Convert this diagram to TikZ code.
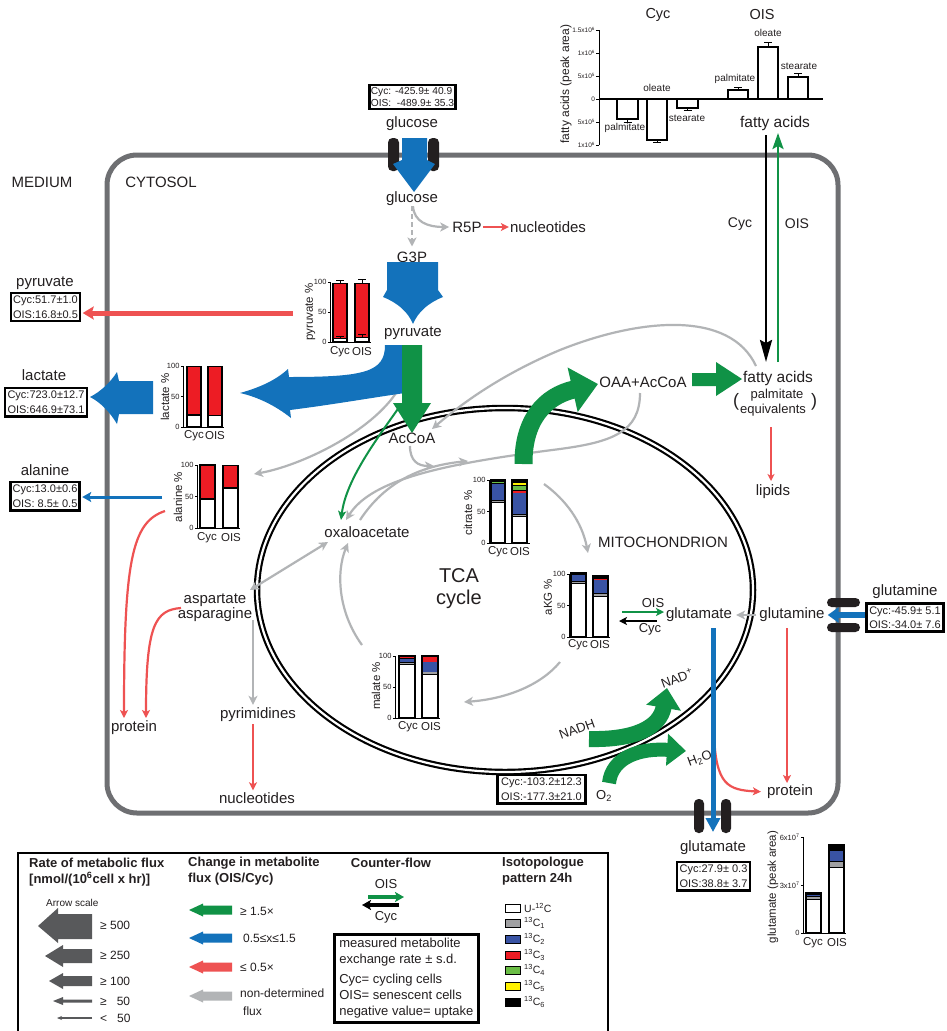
\documentclass[tikz,border=0pt]{standalone}
\usepackage{fontspec}
\setmainfont{Liberation Sans}
\usetikzlibrary{arrows.meta}
\definecolor{fblue}{RGB}{19,114,187}
\definecolor{fgreen}{RGB}{16,146,70}
\definecolor{fred}{RGB}{238,82,82}
\definecolor{fgray}{RGB}{178,180,182}
\definecolor{dgray}{RGB}{88,89,91}
\definecolor{wallc}{RGB}{110,111,114}
\definecolor{txt}{RGB}{35,31,32}
\definecolor{pillc}{RGB}{35,31,32}
\definecolor{barred}{RGB}{237,28,36}
\definecolor{isoA}{RGB}{160,160,162}
\definecolor{isoB}{RGB}{57,83,164}
\definecolor{isoC}{RGB}{237,28,36}
\definecolor{isoD}{RGB}{106,189,69}
\definecolor{isoE}{RGB}{255,242,0}
\definecolor{isoF}{RGB}{0,0,0}

\newcommand{\stk}[6]{%
  \foreach \sa/\sb/\segcol in {#5}{%
    \fill[fill=\segcol] (#1,{#2-#3*\sa/100}) rectangle ({#1+#4},{#2-#3*\sb/100});
    \draw[line width=0.6pt, black] (#1,{#2-#3*\sb/100}) -- ({#1+#4},{#2-#3*\sb/100});
  }%
  \draw[line width=1.2pt, black] (#1,#2) rectangle ({#1+#4},{#2-#3*#6/100});
}
\newcommand{\pctaxis}[5]{%
  \draw[line width=1pt, black] (#2,{#3-#4}) -- (#2,#3) -- (#5,#3);
  \foreach \tv in {0,50,100}{%
    \draw[line width=0.8pt, black] (#2,{#3-#4*\tv/100}) -- ++(-2.5,0) node[tklbl, anchor=east] (#1t\tv) {\tv};
  }%
}
\newcommand{\legarr}[2]{%
  \fill[#1] (232,{#2-4.5}) -- (203,{#2-4.5}) -- (203,{#2-6.5}) -- (189,#2) -- (203,{#2+6.5}) -- (203,{#2+4.5}) -- (232,{#2+4.5}) -- cycle;
}

\begin{document}
\begin{tikzpicture}[x=1pt,y=-1pt,
  every node/.style={inner sep=0pt, text=txt},
  lbl/.style={font=\fontsize{15}{17}\selectfont},
  chl/.style={font=\fontsize{11.5}{13}\selectfont},
  tklbl/.style={font=\fontsize{7.5}{8}\selectfont, xshift=-0.6pt},
  boxt/.style={draw=black, line width=2.7pt, font=\fontsize{11}{14.5}\selectfont, align=left, inner xsep=2.5pt, inner ysep=3pt},
  garr/.style={draw=fgray, line width=2.2pt, -{Stealth[length=9pt,width=9pt,inset=2.5pt]}},
  garrb/.style={draw=fgray, line width=2.2pt, {Stealth[length=9pt,width=9pt,inset=2.5pt]}-{Stealth[length=9pt,width=9pt,inset=2.5pt]}},
  rarr/.style={draw=fred, line width=2.2pt, -{Stealth[length=8pt,width=8pt,inset=2pt]}},
  hdr/.style={font=\bfseries\fontsize{13}{15}\selectfont},
  lgt/.style={font=\fontsize{12}{14}\selectfont},
  flab/.style={font=\fontsize{10}{12}\selectfont},
  mid/.style={font=\fontsize{13}{15}\selectfont},
  pill/.style={fill=pillc, rounded corners=4.5pt},
]
\useasboundingbox (0,0) rectangle (947,1031);
\fill[white] (0,0) rectangle (947,1031);

% ---------------- cell and mitochondrion
\draw[wallc, line width=5pt, rounded corners=30pt] (107,155) rectangle (838,813);
\draw[black, line width=6.5pt] (505,590) ellipse [x radius=248, y radius=182];
\draw[white, line width=2.2pt] (505,590) ellipse [x radius=248, y radius=182];

\node[lbl] (medium) at (42,182) {MEDIUM};
\node[lbl] (cytosol) at (161,182) {CYTOSOL};
\node[lbl] (mito) at (663,542) {MITOCHONDRION};
\node[font=\fontsize{20}{22}\selectfont] (tca1) at (459,576) {TCA};
\node[font=\fontsize{20}{22}\selectfont] (tca2) at (459,599) {cycle};

% ---------------- glucose
\node[boxt, font=\fontsize{10.2}{12.5}\selectfont, inner xsep=1.5pt, inner ysep=2pt] (glcbox) at (412.5,97) {Cyc: -425.9± 40.9\\OIS:\ \ -489.9± 35.3};
\node[lbl] (glcout) at (412,124) {glucose};
\fill[pill] (388,138) rectangle (399,171);
\fill[pill] (428,138) rectangle (439,171);
\fill[fblue] (402,138) -- (427,138) -- (427,160) -- (435,164) -- (414,192) -- (393,164) -- (402,160) -- cycle;
\node[lbl] (glcin) at (412,199) {glucose};
\node[lbl] (g3p) at (412,257) {G3P};
\node[lbl] (r5p) at (467,227) {R5P};
\node[lbl] (nuc1) at (548,227) {nucleotides};
\draw[garr, dash pattern=on 5pt off 3pt, shorten >=5pt] (glcin.south) -- (g3p.north);
\draw[garr, shorten >=3pt] ([xshift=1pt]glcin.south) .. controls (414,222) and (428,227) .. (r5p.west);
\draw[rarr, shorten <=1pt, shorten >=1pt] (r5p.east) -- (nuc1.west);

\fill[fblue] (387,262) -- (438,262) -- (438,290) -- (443,297) .. controls (428,303) and (418,312) .. (413,324) .. controls (408,312) and (398,303) .. (383,297) -- (387,290) -- cycle;
\node[lbl] (pyr) at (413,333) {pyruvate};

% ---------------- pyruvate chart
\pctaxis{pyr}{330}{342}{60}{371}
\stk{333}{342}{60}{14}{0/7/white,7/98/barred}{98}
\stk{355}{342}{60}{14}{0/8/white,8/98/barred}{98}
\draw[line width=1pt] (340,283) -- (340,280) (336,280) -- (344,280) (362,283) -- (362,279) (358,279) -- (366,279);
\draw[line width=1pt] (340,338) -- (340,336) (336,336) -- (344,336) (362,337) -- (362,334) (358,334) -- (366,334);
\node[chl, rotate=90] (pyrY) at (310,312) {pyruvate \%};
\node[chl] (pyrC) at (340,352) {Cyc};
\node[chl] (pyrO) at (362,352) {OIS};

% pyruvate export
\node[lbl] (pyrout) at (45,283) {pyruvate};
\node[boxt, inner xsep=2pt] (pyrbox) at (45.5,307) {Cyc:51.7±1.0\\OIS:16.8±0.5};
\coordinate (pyrsrc) at (293,313);
\draw[draw=fred, line width=5pt, -{Stealth[length=11pt,width=13pt,inset=2pt]}, shorten >=1.5pt] (pyrsrc) -- (pyrbox.east |- pyrsrc);

% pyruvate -> alanine (grey)
\draw[garr] (398,390) .. controls (372,432) and (300,466) .. (254,474);

% lactate flux
\fill[fblue] (385,345) -- (405,345) -- (405,393) .. controls (370,398) and (330,405) .. (290,410) -- (291,418) .. controls (276,406) and (258,397) .. (240,393) .. controls (258,388) and (275,381) .. (288,369) -- (289,377) .. controls (365,377) and (385,372) .. (385,345) -- cycle;
\fill[fblue] (153,381) -- (119,381) -- (117,372) .. controls (110,383) and (100,392) .. (90,397) .. controls (100,402) and (110,412) .. (117,424) -- (119,414) -- (153,414) -- cycle;
\node[lbl] (lacout) at (44,375) {lactate};
\node[boxt] (lacbox) at (46,402) {Cyc:723.0±12.7\\OIS:646.9±73.1};

% lactate chart
\pctaxis{lac}{183}{427}{61}{224}
\stk{187}{427}{61}{14}{0/20/white,20/21.5/black,21.5/99/barred}{99}
\stk{208}{427}{61}{14}{0/19/white,19/20.5/black,20.5/99/barred}{99}
\node[chl, rotate=90] (lacY) at (165,397) {lactate \%};
\node[chl] (lacC) at (194,436) {Cyc};
\node[chl] (lacO) at (215,436) {OIS};

% pyruvate -> AcCoA
\fill[fgreen] (402,345) -- (422,345) -- (422,403) -- (431,403) -- (412,433) -- (393,403) -- (402,403) -- cycle;
\node[lbl] (accoa) at (412,438) {AcCoA};

% alanine
\node[lbl] (alaout) at (45,470) {alanine};
\node[boxt, inner xsep=2pt] (alabox) at (45,496) {Cyc:13.0±0.6\\OIS: 8.5± 0.5};
\coordinate (alasrc) at (162,497);
\draw[draw=fblue, line width=3pt, -{Stealth[length=9pt,width=10pt,inset=2pt]}, shorten >=1.5pt] (alasrc) -- (alabox.east |- alasrc);
\pctaxis{ala}{197}{528}{63}{240}
\stk{200}{528}{63}{15}{0/45/white,45/47/black,47/100/barred}{100}
\stk{223}{528}{63}{15}{0/63/white,63/65/black,65/99/barred}{99}
\node[chl, rotate=90] (alaY) at (178,497) {alanine \%};
\node[chl] (alaC) at (207,538) {Cyc};
\node[chl] (alaO) at (231,538) {OIS};

% ---------------- TCA
\node[lbl] (oaa) at (367,532) {oxaloacetate};
\draw[draw=fgreen, line width=2pt, -{Stealth[length=9pt,width=8pt,inset=2pt]}] (400,406) .. controls (376,440) and (346,480) .. (341,520);
\draw[garr] (410,446) .. controls (410,461) and (418,466) .. (434,466);
\draw[garr] (360,520) .. controls (385,482) and (420,466) .. (468,461);
\node[lbl] (oaaac) at (643,382) {OAA+AcCoA};
\draw[garr] (640,393) .. controls (640,432) and (612,442) .. (560,449) .. controls (450,463) and (372,478) .. (346,520);
\draw[garr] (544,484) .. controls (566,500) and (582,522) .. (588,553);
\draw[garr] (560,662) .. controls (540,686) and (505,699) .. (464,702);
\draw[garr] (362,645) .. controls (338,612) and (336,572) .. (348,543);

% citrate chart
\pctaxis{cit}{489}{543}{63}{530}
\stk{491}{543}{63}{14}{0/65/white,65/68/isoA,68/95/isoB,95/98/isoD,98/100/isoF}{100}
\stk{512}{543}{63}{15}{0/43/white,43/46/isoA,46/80/isoB,80/84/isoC,84/92/isoD,92/96/isoE,96/100/isoF}{100}
\node[chl, rotate=90] (citY) at (468,513) {citrate \%};
\node[chl] (citC) at (498,552) {Cyc};
\node[chl] (citO) at (520,552) {OIS};

% aKG chart
\pctaxis{akg}{569}{637}{63}{610}
\stk{571}{637}{63}{15}{0/85/white,85/89/isoA,89/100/isoB,100/102/isoF}{102}
\stk{593}{637}{63}{15}{0/65/white,65/70/isoA,70/91/isoB,91/93/isoC,93/95/isoD,95/98/isoF}{98}
\node[chl, rotate=90] (akgY) at (548,597) {aKG \%};
\node[chl] (akgC) at (578,645) {Cyc};
\node[chl] (akgO) at (600,645) {OIS};

% malate chart
\pctaxis{mal}{395}{718}{62}{440}
\stk{399}{718}{62}{16}{0/87/white,87/90/isoA,90/97/isoB,97/100/isoC}{100}
\stk{422}{718}{62}{16}{0/71/white,71/75/isoA,75/91/isoB,91/100/isoC}{100}
\node[chl, rotate=90] (malY) at (376,686) {malate \%};
\node[chl] (malC) at (408,727) {Cyc};
\node[chl] (malO) at (431,727) {OIS};

% aspartate etc.
\node[lbl] (asp) at (215,600) {aspartate};
\node[lbl] (asn) at (215,615) {asparagine};
\draw[garrb] (250,590) -- (328,542);
\node[lbl] (pyrim) at (258,715) {pyrimidines};
\node[lbl] (nuc2) at (257,798) {nucleotides};
\draw[garr, shorten >=3pt] (253,620) -- (pyrim.north -| 253,0);
\draw[rarr, shorten <=2pt, shorten >=2pt] (pyrim.south -| 253,0) -- (nuc2.north -| 253,0);
\node[lbl] (prot1) at (134,728) {protein};
\draw[rarr] (165,511) .. controls (132,522) and (124,560) .. (124,718);
\draw[rarr] (181,608) .. controls (155,610) and (146,625) .. (146,718);

% ---------------- fatty acids
\node[font=\fontsize{15.5}{17}\selectfont] (fatop) at (775,123) {fatty acids};
\node[font=\fontsize{15.5}{17}\selectfont] (facyt) at (778,378) {fatty acids};
\node[font=\fontsize{13}{14}\selectfont] (palm) at (777,395) {palmitate};
\node[font=\fontsize{13}{14}\selectfont] (equiv) at (773,410) {equivalents};
\node[font=\fontsize{18}{20}\selectfont] (parl) at (736,402) {(};
\node[font=\fontsize{18}{20}\selectfont] (parr) at (814,402) {)};
\node[lbl] (lipids) at (773,492) {lipids};
\draw[draw=fred, line width=2pt, -{Stealth[length=7pt,width=7pt,inset=2pt]}] (771,427) -- (771,481);
\draw[draw=black, line width=2.5pt, -{Stealth[length=22pt,width=12pt,inset=3pt]}] (766,135) -- (766,362);
\draw[draw=fgreen, line width=2.5pt, -{Stealth[length=16pt,width=11pt,inset=3pt]}] (778,362) -- (778,133);
\node[font=\fontsize{14}{16}\selectfont] (facyc2) at (740,224) {Cyc};
\node[font=\fontsize{14}{16}\selectfont] (faois2) at (797,224) {OIS};

\draw[draw=fgreen, line width=18pt, -{Triangle[length=26pt,width=44pt]}] (523.5,464) .. controls (523,420) and (545,396) .. (598,384);
\fill[fgreen] (692,373) -- (716,373) -- (716,362) -- (742,379) -- (716,396) -- (716,386) -- (692,386) -- cycle;
\draw[garr] (756,366) .. controls (730,310) and (640,318) .. (560,350) .. controls (500,375) and (460,405) .. (432,429);

% fatty acid chart
\node[font=\fontsize{14.5}{16}\selectfont] (facyc) at (658,15) {Cyc};
\node[font=\fontsize{14.5}{16}\selectfont] (faois) at (762,15) {OIS};
\draw[line width=1pt] (599,30) -- (599,145);
\foreach \ty/\tlab [count=\ti] in {30/1.5x10\textsuperscript{6}, 53/1x10\textsuperscript{6}, 76/5x10\textsuperscript{5}, 99/0, 122/5x10\textsuperscript{5}, 145/1x10\textsuperscript{6}}{
  \draw[line width=0.8pt] (599,\ty) -- (596,\ty) node[tklbl, font=\fontsize{6.5}{7}\selectfont, anchor=east] (fat\ti) {\tlab};
}
\draw[line width=1.3pt, fill=white] (617,99) rectangle (638,119);
\draw[line width=1.3pt, fill=white] (647,99) rectangle (667,140);
\draw[line width=1.3pt, fill=white] (677,99) rectangle (698,108);
\draw[line width=1.3pt, fill=white] (728,99) rectangle (748,90);
\draw[line width=1.3pt, fill=white] (758,99) rectangle (778,47);
\draw[line width=1.3pt, fill=white] (788,99) rectangle (808,77);
\draw[line width=1pt] (627.5,119) -- (627.5,122) (623.5,122) -- (631.5,122)
  (657,140) -- (657,142) (653,142) -- (661,142)
  (687.5,108) -- (687.5,110) (683.5,110) -- (691.5,110)
  (738,90) -- (738,87) (734,87) -- (742,87)
  (768,47) -- (768,42) (764,42) -- (772,42)
  (798,77) -- (798,73) (794,73) -- (802,73);
\draw[line width=1.3pt] (599,99) -- (823,99);
\node[flab] (fl1) at (625,128) {palmitate};
\node[flab] (fl2) at (657,88) {oleate};
\node[flab] (fl3) at (687,118) {stearate};
\node[flab] (fl4) at (735,79) {palmitate};
\node[flab] (fl5) at (768,33) {oleate};
\node[flab] (fl6) at (799,66) {stearate};
\node[font=\fontsize{12}{14}\selectfont, rotate=90] (faY) at (566,84) {fatty acids (peak area)};

% ---------------- glutamine / glutamate
\node[lbl] (glu) at (699,615) {glutamate};
\node[lbl] (gln) at (792,615) {glutamine};
\draw[draw=fgreen, line width=2.5pt, -{Stealth[length=8pt,width=8pt,inset=2pt]}] (622,612) -- (664,612);
\draw[draw=black, line width=2.5pt, -{Stealth[length=8pt,width=8pt,inset=2pt]}] (657,621) -- (619,621);
\node[mid] (cfois) at (653,603) {OIS};
\node[mid] (cfcyc) at (650,629) {Cyc};
\draw[garr, shorten <=3pt, shorten >=4pt] (gln.west) -- (glu.east);
\fill[pill] (827,598) rectangle (860,607);
\fill[pill] (827,623) rectangle (860,632);
\node[lbl] (glnout) at (905,592) {glutamine};
\node[boxt] (glnbox) at (905,617.5) {Cyc:-45.9± 5.1\\OIS:-34.0± 7.6};
\draw[draw=fblue, line width=5.5pt, -{Triangle[length=11pt,width=15pt]}, shorten >=3pt] (glnbox.west |- gln) -- (gln.east);

\node[lbl] (prot2) at (790,792) {protein};
\draw[rarr, shorten >=6pt] (714,735) .. controls (716,785) and (728,790) .. (prot2.west);
\draw[rarr] (787,628) -- (787,783);
\fill[pill] (694,799) rectangle (704,833);
\fill[pill] (721,799) rectangle (731,833);
\draw[draw=fblue, line width=5pt, -{Triangle[length=14pt,width=14pt]}] (713,628) -- (713,832);
\node[lbl] (gluout) at (713,848) {glutamate};
\node[boxt] (glubox) at (713.5,876) {Cyc:27.9± 0.3\\OIS:38.8± 3.7};

% glutamate chart
\draw[line width=1pt] (803,837) -- (803,933) -- (846,933);
\foreach \ty/\tlab [count=\ti] in {837/6x10\textsuperscript{7}, 885/3x10\textsuperscript{7}, 933/0}{
  \draw[line width=0.8pt] (803,\ty) -- (800.5,\ty) node[tklbl, anchor=east] (gct\ti) {\tlab};
}
\stk{806}{933}{100}{15}{0/34/white,34/37/isoA,37/39/isoB,39/40/isoF}{40}
\stk{829}{933}{100}{15}{0/66/white,66/72/isoA,72/83/isoB,83/84/isoC,84/88/isoF}{88}
\node[chl, rotate=90] (gcY) at (773,887) {glutamate (peak area)};
\node[chl] (gcC) at (813,943) {Cyc};
\node[chl] (gcO) at (837,943) {OIS};

% ---------------- respiration
\draw[draw=fgreen, line width=16pt, -{Triangle[length=20pt,width=34pt]}] (589,739) .. controls (634,740) and (660,728) .. (667,688);
\draw[draw=fgreen, line width=14pt, -{Triangle[length=19pt,width=31pt]}] (609,783) .. controls (612,757) and (640,748) .. (686,751);
\node[mid, rotate=20] (nadh) at (577,729) {NADH};
\node[mid, rotate=20] (nadp) at (677,678) {NAD\textsuperscript{+}};
\node[mid, rotate=20] (h2o) at (700,759) {H\textsubscript{2}O};
\node[mid] (o2) at (604,796) {O\textsubscript{2}};
\node[boxt, inner xsep=4pt] (o2box) at (541.5,789) {Cyc:-103.2±12.3\\OIS:-177.3±21.0};

% ---------------- legend
\draw[line width=1.2pt, black] (18,853) rectangle (608,1045);
\node[hdr, anchor=west] (lgA1) at (29,863) {Rate of metabolic flux};
\node[hdr, anchor=west] (lgA2) at (29,879) {[nmol/(10\textsuperscript{6}cell x hr)]};
\node[font=\fontsize{10}{12}\selectfont, anchor=west] (lgA3) at (46,903) {Arrow scale};
\fill[dgray] (92,914) -- (58,914) -- (58,908) -- (38,926) -- (58,943) -- (58,939) -- (92,939) -- cycle;
\fill[dgray] (92,949) -- (63,949) -- (63,945) -- (45,956) -- (63,967) -- (63,963) -- (92,963) -- cycle;
\fill[dgray] (92,976) -- (63,976) -- (63,973) -- (49,981) -- (63,989) -- (63,986) -- (92,986) -- cycle;
\fill[dgray] (92,999.5) -- (63,999.5) -- (63,997) -- (53,1001) -- (63,1005) -- (63,1002.5) -- (92,1002.5) -- cycle;
\draw[draw=dgray, line width=1.5pt, -{Stealth[length=5pt,width=4pt]}] (92,1018) -- (57,1018);
\node[lgt, anchor=west] (lgs1) at (100,925) {≥ 500};
\node[lgt, anchor=west] (lgs2) at (100,955) {≥ 250};
\node[lgt, anchor=west] (lgs3) at (100,981) {≥ 100};
\node[lgt, anchor=west] (lgs4) at (100,1001) {≥\ \ \ 50};
\node[lgt, anchor=west] (lgs5) at (100,1018) {<\ \ \ 50};

\node[hdr, anchor=west] (lgB1) at (188,863) {Change in metabolite};
\node[hdr, anchor=west] (lgB2) at (188,879) {flux (OIS/Cyc)};
\legarr{fgreen}{910}
\legarr{fblue}{938}
\legarr{fred}{967}
\legarr{fgray}{996}
\node[lgt, anchor=west] (lgB3) at (240,911) {≥ 1.5×};
\node[lgt, anchor=west] (lgB4) at (243,938) {0.5≤x≤1.5};
\node[lgt, anchor=west] (lgB5) at (240,967) {≤ 0.5×};
\node[lgt, anchor=west] (lgB6) at (240,993) {non-determined};
\node[lgt, anchor=west] (lgB7) at (243,1011) {flux};

\node[hdr] (lgC1) at (391,863) {Counter-flow};
\node[mid] (lgC2) at (386,884) {OIS};
\draw[draw=fgreen, line width=3.5pt, -{Stealth[length=9pt,width=10pt,inset=2pt]}] (368,897) -- (404,897);
\draw[draw=black, line width=3.5pt, -{Stealth[length=9pt,width=10pt,inset=2pt]}] (399,905) -- (362,905);
\node[mid] (lgC3) at (386,917) {Cyc};
\node[draw=black, line width=2.6pt, font=\fontsize{13}{16}\selectfont, align=left, inner xsep=5pt, inner ysep=4pt, anchor=north west] (lgbox) at (333,933) {measured metabolite\\exchange rate ± s.d.\\[4pt]Cyc= cycling cells\\OIS= senescent cells\\negative value= uptake};

\node[hdr, anchor=west] (lgD1) at (502,863) {Isotopologue};
\node[hdr, anchor=west] (lgD2) at (502,879) {pattern 24h};
\foreach \swy/\swc/\swt [count=\ii] in {908/white/U-\textsuperscript{12}C, 923/isoA/\textsuperscript{13}C\textsubscript{1}, 939/isoB/\textsuperscript{13}C\textsubscript{2}, 955/isoC/\textsuperscript{13}C\textsubscript{3}, 970/isoD/\textsuperscript{13}C\textsubscript{4}, 986/isoE/\textsuperscript{13}C\textsubscript{5}, 1002/isoF/\textsuperscript{13}C\textsubscript{6}}{
  \draw[line width=0.8pt, fill=\swc] (505,\swy-4) rectangle (520,\swy+4);
  \node[font=\fontsize{10.5}{12}\selectfont, anchor=west] (iso\ii) at (524,\swy) {\swt};
}
\end{tikzpicture}
\end{document}
